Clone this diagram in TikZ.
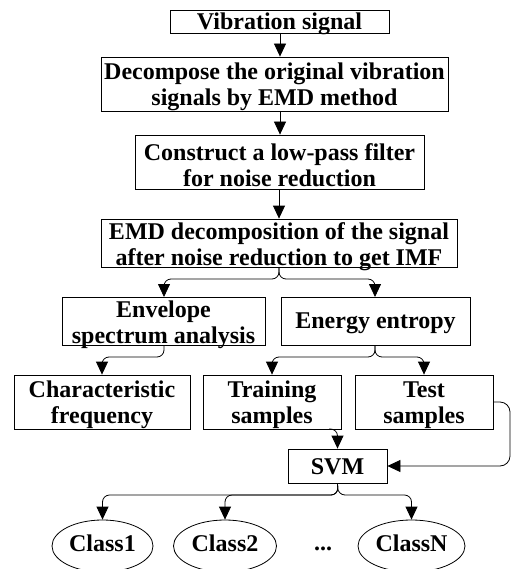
\documentclass[tikz,border=0pt]{standalone}
\usepackage{fontspec}
\setmainfont{Liberation Serif}
\usetikzlibrary{arrows.meta,shapes.geometric}
\tikzset{
  bigfont/.style={font=\fontsize{24}{26}\selectfont\bfseries},
  box/.style={draw,line width=0.8pt,inner sep=0pt},
  txt/.style={inner sep=0pt,align=center,bigfont},
  oval/.style={draw,ellipse,line width=0.8pt,inner sep=0pt,minimum height=52pt,bigfont},
  conn/.style={line width=0.8pt,rounded corners=7pt,-{Triangle[width=12pt,length=13pt]}},
}
\begin{document}
\begin{tikzpicture}[x=1pt,y=-1pt]
\useasboundingbox (0,0) rectangle (512,569);
\node[box,minimum width=219pt,minimum height=23pt] (v1) at (279.5,21.5) {};
\node[txt] (v1t) at ([yshift=-2.5pt]v1.center) {Vibration signal};
\node[box,minimum width=347pt,minimum height=54pt] (v2) at (274.5,84) {};
\node[txt] (v2t) at ([yshift=-3pt]v2.center) {Decompose the original vibration\\signals by EMD method};
\node[box,minimum width=289pt,minimum height=54pt] (v3) at (279.5,162) {};
\node[txt] (v3t) at ([yshift=-3pt]v3.center) {Construct a low-pass filter\\for noise reduction};
\node[box,minimum width=356pt,minimum height=48pt] (v4) at (279,243) {};
\node[txt] (v4t) at ([yshift=-3.5pt]v4.center) {EMD decomposition of the signal\\after noise reduction to get IMF};
\node[box,minimum width=203pt,minimum height=48pt] (v5) at (163.5,321) {};
\node[txt] (v5t) at ([yshift=-4pt]v5.center) {Envelope\\spectrum analysis};
\node[box,minimum width=189pt,minimum height=48pt] (v6) at (375.5,321) {};
\node[txt] (v6t) at ([yshift=-2.5pt]v6.center) {Energy entropy};
\node[box,minimum width=176pt,minimum height=54pt] (v7) at (102,402) {};
\node[txt] (v7t) at ([yshift=-3pt]v7.center) {Characteristic\\frequency};
\node[box,minimum width=138pt,minimum height=54pt] (v8) at (272,402) {};
\node[txt] (v8t) at ([yshift=-3pt]v8.center) {Training\\samples};
\node[box,minimum width=138pt,minimum height=54pt] (v9) at (424,402) {};
\node[txt] (v9t) at ([yshift=-3pt]v9.center) {Test\\samples};
\node[box,minimum width=99pt,minimum height=34pt] (svm) at (337.5,466) {};
\node[txt] (svmt) at ([yshift=-1pt]svm.center) {SVM};
\node[oval,minimum width=101pt] (c1) at (102.5,546) {};
\node[txt] (c1t) at ([yshift=3pt]c1.center) {Class1};
\node[oval,minimum width=103pt] (c2) at (225,546) {};
\node[txt] (c2t) at ([yshift=3pt]c2.center) {Class2};
\node[oval,minimum width=107pt] (cN) at (411.5,546) {};
\node[txt] (cNt) at ([yshift=3pt]cN.center) {ClassN};
\node[txt] (dots) at (323,549) {...};
% connectors
\coordinate (a1) at (280,33);
\draw[conn] (a1) -- (a1 |- v2.north);
\coordinate (a2) at (280,111);
\draw[conn] (a2) -- (a2 |- v3.north);
\coordinate (a3) at (279,189);
\draw[conn] (a3) -- (a3 |- v4.north);
\coordinate (b4) at (279,279);
\coordinate (b4l) at (164,297);
\coordinate (b4r) at (375,297);
\draw[conn] (v4.south) -- (b4) -| (b4l);
\draw[conn] (v4.south) -- (b4) -| (b4r);
\coordinate (b5) at (164,357);
\draw[conn] (b5 |- v5.south) -- (b5) -| (v7.north);
\coordinate (b6) at (375,357);
\draw[conn] (b6 |- v6.south) -- (b6) -| (v8.north);
\draw[conn] (b6 |- v6.south) -- (b6) -| (v9.north);
\coordinate (t8) at (329,429);
\draw[conn] (t8) -| (svm.north);
\coordinate (r9) at (510,434);
\draw[conn,rounded corners=10pt] (v9.east) -| (r9) |- (svm.east);
\coordinate (bs) at (338,495);
\draw[conn] (svm.south) -- (bs) -| (c1.north);
\draw[conn] (svm.south) -- (bs) -| (c2.north);
\draw[conn] (svm.south) -- (bs) -| (cN.north);
\end{tikzpicture}
\end{document}
